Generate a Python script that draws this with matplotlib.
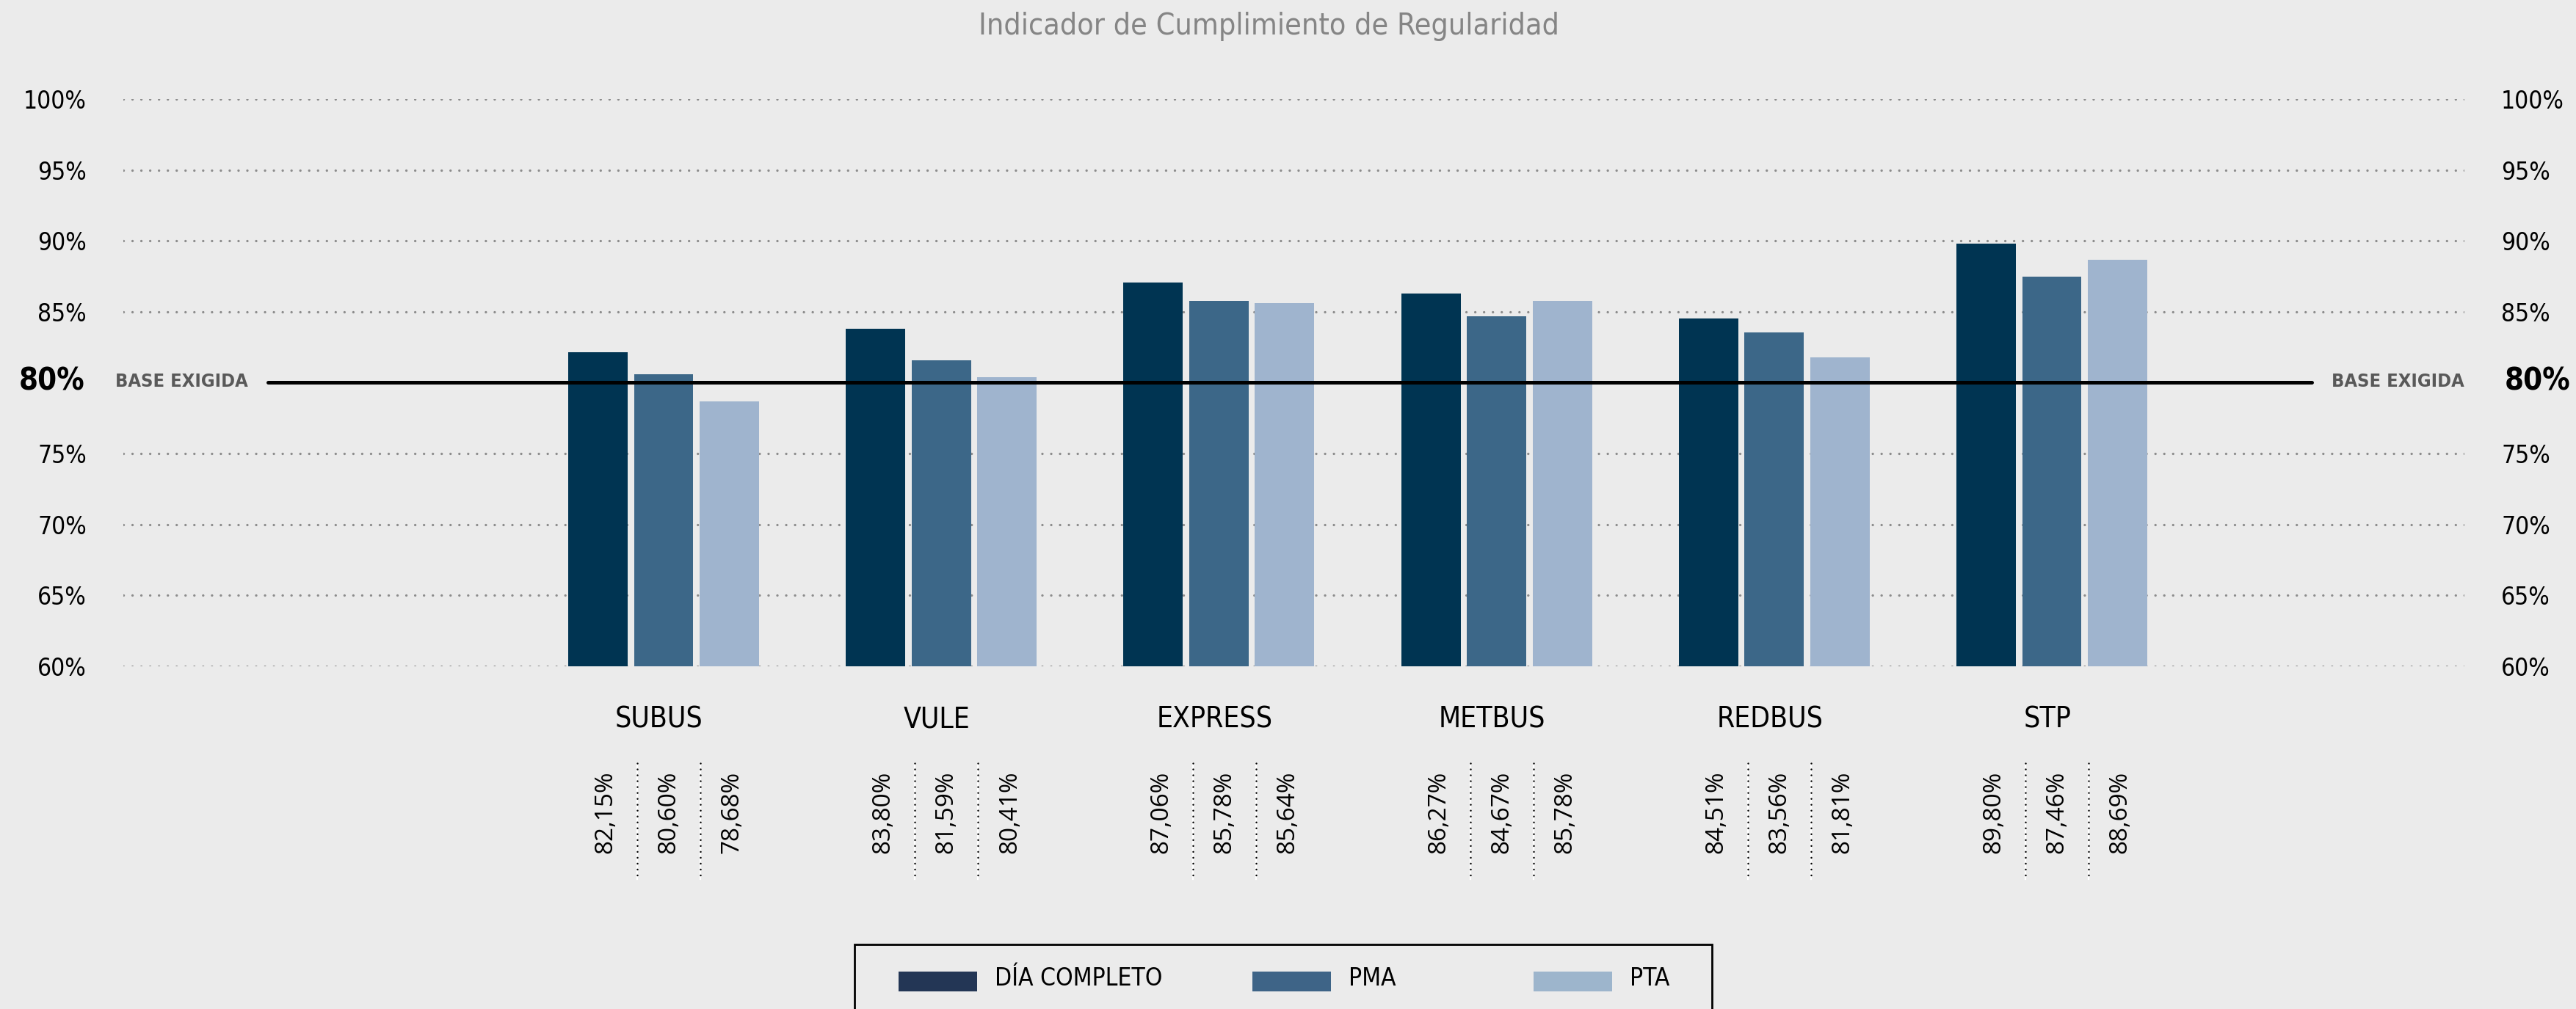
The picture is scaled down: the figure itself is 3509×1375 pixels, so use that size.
import numpy as np
import matplotlib
matplotlib.use('Agg')
import matplotlib.pyplot as plt
import matplotlib.font_manager as fm
import matplotlib.patheffects as pe
from matplotlib.patches import Rectangle

# datos del indicador
operadores = ['SUBUS', 'VULE', 'EXPRESS', 'METBUS', 'REDBUS', 'STP']
dia_completo = [82.15, 83.80, 87.06, 86.27, 84.51, 89.80]
pma = [80.60, 81.59, 85.78, 84.67, 83.56, 87.46]
pta = [78.68, 80.41, 85.64, 85.78, 81.81, 88.69]
series_nombres = ['DÍA COMPLETO', 'PMA', 'PTA']
yticks = [60, 65, 70, 75, 85, 90, 95, 100]
base_exigida = 80

col_barras = ['#003452', '#3c6788', '#9fb4ce']
col_leyenda = ['#233655', '#3e6487', '#9db5cc']
fondo = '#ebebeb'

# buscar una fuente estrecha instalada (normal y negrita)
condensadas = ('ultra-condensed', 'extra-condensed', 'condensed', 'semi-condensed')


def peso(e):
    w = e.weight
    if isinstance(w, str):
        w = {'bold': 700, 'heavy': 800, 'black': 900, 'semibold': 600,
             'demibold': 600, 'extra bold': 800}.get(w, 400)
    return w


def es_estrecha(e):
    return 'Narrow' in e.name or 'Condensed' in e.name or str(e.stretch) in condensadas


def elegir(negrita):
    cands = [e for e in fm.fontManager.ttflist if es_estrecha(e) and e.style == 'normal']
    if negrita:
        cands = [e for e in cands if 650 <= peso(e) <= 750]
    else:
        cands = [e for e in cands if 350 <= peso(e) <= 450]
    for pref in ['Liberation Sans Narrow', 'Noto Sans', 'Open Sans', 'DejaVu Sans', 'Roboto']:
        for st in ['condensed', 'semi-condensed', 'extra-condensed', 'normal']:
            for e in cands:
                if e.name == pref and str(e.stretch) == st:
                    return e
    return cands[0] if cands else None


e_reg = elegir(False)
e_bold = elegir(True)


def nf(size, bold=False):
    e = e_bold if bold else e_reg
    if e is None:
        e = e_reg
    if e is None:
        return dict(fontfamily='Roboto', fontsize=size * 0.9,
                    fontweight='bold' if bold else 'normal')
    return dict(fontfamily=e.name, fontstretch=str(e.stretch), fontsize=size,
                fontweight=peso(e))


def extra_negrita(color):
    # si no hay variante negrita se simula con un trazo
    if e_bold is None:
        return [pe.withStroke(linewidth=2.2, foreground=color)]
    return None


W, H = 3509, 1375
fig = plt.figure(figsize=(W / 100, H / 100), dpi=100, facecolor=fondo)

# ejes en pixeles -> fraccion de figura
ax_l, ax_r, ax_t, ax_b = 168, 3357, 135, 908
ax = fig.add_axes([ax_l / W, 1 - ax_b / H, (ax_r - ax_l) / W, (ax_b - ax_t) / H])
ax.set_facecolor(fondo)

x = np.arange(len(operadores))
ancho = 0.214
paso = 0.2367
for k, vals in enumerate([dia_completo, pma, pta]):
    ax.bar(x + (k - 1) * paso, vals, width=ancho, color=col_barras[k], zorder=3)

ax.set_ylim(60, 100)
ax.set_xlim(-1.946, 6.486)
ax.set_yticks(yticks)
ax.set_yticklabels([f'{t}%' for t in yticks])
ax.tick_params(axis='y', length=0, pad=36, labelleft=True, labelright=True)
f_tick = nf(24)
for t in ax.yaxis.get_major_ticks():
    for lab in (t.label1, t.label2):
        lab.set_fontfamily(f_tick['fontfamily'])
        lab.set_fontstretch(f_tick.get('fontstretch', 'normal'))
        lab.set_fontsize(f_tick['fontsize'])
        lab.set_fontweight(f_tick['fontweight'])
ax.set_xticks([])
for s in ax.spines.values():
    s.set_visible(False)

# lineas punteadas
ax.yaxis.grid(True, color='#8c8c8c', linewidth=2.4, linestyle=(0, (0.01, 3.6)), zorder=1)
for gl in ax.get_ygridlines():
    gl.set_dash_capstyle('round')
ax.set_axisbelow(True)

# linea base exigida
ax.axhline(base_exigida, xmin=(365 - ax_l) / (ax_r - ax_l), xmax=(3149 - ax_l) / (ax_r - ax_l),
           color='black', linewidth=3.6, solid_capstyle='round', zorder=4)

# etiquetas 80% / BASE EXIGIDA
y80 = 1 - 520 / H
fig.text(115 / W, y80, f'{base_exigida}%', ha='right', va='center',
         path_effects=extra_negrita('black'), **nf(30, True))
fig.text(157 / W, y80, 'BASE EXIGIDA', ha='left', va='center', color='#595959',
         path_effects=extra_negrita('#595959'), **nf(18.3, True))
fig.text(3176 / W, y80, 'BASE EXIGIDA', ha='left', va='center', color='#595959',
         path_effects=extra_negrita('#595959'), **nf(18.3, True))
fig.text(3412 / W, y80, f'{base_exigida}%', ha='left', va='center',
         path_effects=extra_negrita('black'), **nf(30, True))

# nombres de operadores y tabla de valores
trans = ax.get_xaxis_transform()
alto_ax = ax_b - ax_t
for i, nombre in enumerate(operadores):
    ax.text(i - 0.016, (ax_b - 992) / alto_ax, nombre, transform=trans, ha='center',
            va='baseline', clip_on=False, **nf(28))
    vals = [dia_completo[i], pma[i], pta[i]]
    for k, v in enumerate(vals):
        xv = i + 0.019 + (k - 1) * 0.2275
        ax.text(xv, (ax_b - 1107) / alto_ax, f'{v:.2f}'.replace('.', ',') + '%',
                transform=trans, rotation=90, ha='center', va='center',
                fontsize=24, fontfamily='Open Sans', clip_on=False)
    for k in range(2):
        xs = i + 0.019 + (k - 0.5) * 0.2275
        y0, y1 = (ax_b - 1040) / alto_ax, (ax_b - 1198) / alto_ax
        ax.plot([xs, xs], [y0, y1], transform=trans, color='white', linewidth=1.6,
                clip_on=False, zorder=5)
        ax.plot([xs, xs], [y0, y1], transform=trans, color='black', linewidth=1.8,
                linestyle=(0, (0.01, 3.2)), dash_capstyle='round', clip_on=False, zorder=6)

# titulo
fig.text(1728 / W, 1 - 47 / H, 'Indicador de Cumplimiento de Regularidad', ha='center',
         va='baseline', color='#858585', **nf(29.5))

# leyenda
fig.patches.append(Rectangle((1164 / W, -0.05), (2332 - 1164) / W, 0.05 + 1 - 1287 / H,
                             transform=fig.transFigure, fill=False, edgecolor='black',
                             linewidth=2))
sw_x = [1224, 1706, 2089]
for k, nombre in enumerate(series_nombres):
    fig.patches.append(Rectangle((sw_x[k] / W, 1 - 1351 / H), 107 / W, 27 / H,
                                 transform=fig.transFigure, facecolor=col_leyenda[k],
                                 edgecolor='none'))
    fig.text((sw_x[k] + 131) / W, 1 - 1343 / H, nombre, ha='left', va='baseline', **nf(24))

fig.savefig('out.png', dpi=100, facecolor=fondo)
